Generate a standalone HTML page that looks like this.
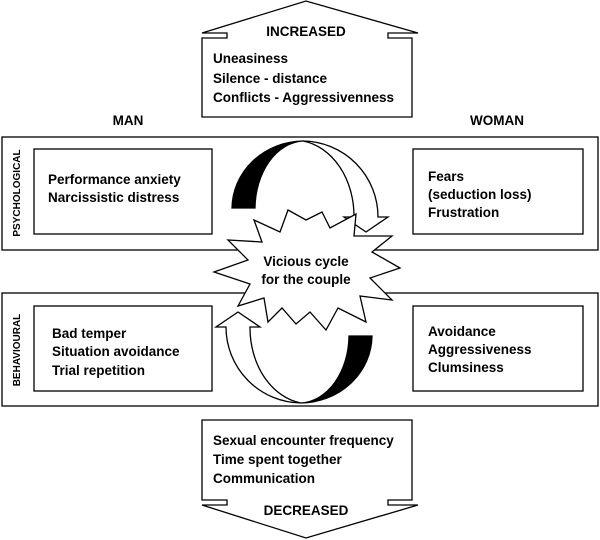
<!DOCTYPE html>
<html><head><style>
html,body{margin:0;padding:0;background:#fff;}
svg{display:block;}
text{font-family:"Liberation Sans",sans-serif;font-weight:bold;font-size:13.5px;fill:#000;}
</style></head><body>
<svg width="600" height="540" viewBox="0 0 600 540" xmlns="http://www.w3.org/2000/svg">
<g fill="none" stroke="#000" stroke-width="1.3">
<!-- top arrow -->
<path d="M202,117 L202,38 L227,38 L227,33 L202,33 L306,1 L418,33 L388,33 L388,38 L412,38 L412,117 Z" fill="#fff"/>
<!-- bands -->
<rect x="2" y="137" width="596" height="113" fill="#fff"/>
<rect x="2" y="293" width="596" height="113" fill="#fff"/>
<rect x="34" y="149" width="178" height="85"/>
<rect x="413" y="149" width="170" height="85"/>
<rect x="34" y="306" width="178" height="85"/>
<rect x="413" y="306" width="170" height="85"/>
<!-- bottom arrow -->
<path d="M202,420 L412,420 L412,500 L388,500 L388,505 L418,505 L306,538 L202,505 L227,505 L227,500 L202,500 Z" fill="#fff"/>
</g>
<!-- cycle arrows -->
<g id="arc" stroke="#000" stroke-width="1.3">
<path d="M232,208 A72 68 0 0 1 303,141 A50 68 0 0 0 255,208 Z" fill="#000"/>
<path d="M303,141 A76 76 0 0 1 378,217 L388,217 L366,232 L344,217 L354,217 A60 76 0 0 0 303,141 Z" fill="#fff"/>
</g>
<use href="#arc" transform="rotate(180 302 272)"/>
<!-- star -->
<polygon fill="#fff" stroke="#000" stroke-width="1.3" points="306,220 322,212 330,228 356,214 354,236 392,236 372,252 400,268 370,278 392,300 360,296 366,322 338,308 326,330 310,312 296,324 282,308 268,322 264,298 238,306 250,284 214,272 248,260 228,240 262,242 254,220 280,232 288,210"/>
<text x="306" y="266" text-anchor="middle">Vicious cycle</text>
<text x="306" y="284" text-anchor="middle">for the couple</text>
<text x="306" y="36" text-anchor="middle">INCREASED</text>
<text x="213" y="63">Uneasiness</text>
<text x="213" y="83">Silence - distance</text>
<text x="213" y="102">Conflicts - Aggressivenness</text>
<text x="128" y="125" text-anchor="middle">MAN</text>
<text x="497" y="125" text-anchor="middle">WOMAN</text>
<text x="48" y="184">Performance anxiety</text>
<text x="48" y="202">Narcissistic distress</text>
<text x="428" y="181">Fears</text>
<text x="428" y="199">(seduction loss)</text>
<text x="428" y="217">Frustration</text>
<text x="52" y="338">Bad temper</text>
<text x="52" y="356">Situation avoidance</text>
<text x="52" y="375">Trial repetition</text>
<text x="428" y="336">Avoidance</text>
<text x="428" y="354">Aggressiveness</text>
<text x="428" y="372">Clumsiness</text>
<text x="213" y="445">Sexual encounter frequency</text>
<text x="213" y="464">Time spent together</text>
<text x="213" y="483">Communication</text>
<text x="306" y="515" text-anchor="middle">DECREASED</text>
<text transform="translate(20,193) rotate(-90)" text-anchor="middle" style="font-size:10px">PSYCHOLOGICAL</text>
<text transform="translate(20,350) rotate(-90)" text-anchor="middle" style="font-size:10px">BEHAVIOURAL</text>
</svg>
</body></html>
